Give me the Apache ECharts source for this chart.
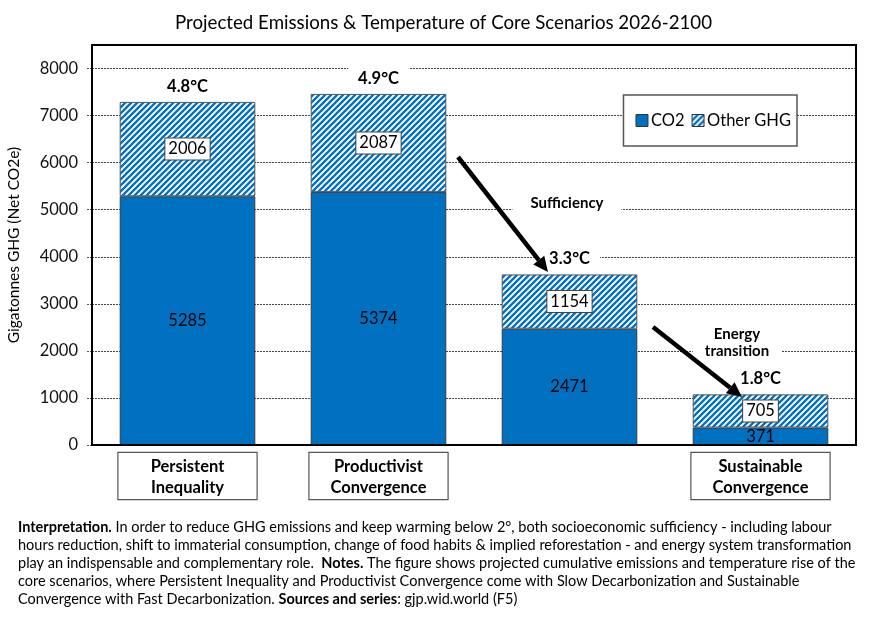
<!DOCTYPE html>
<html lang="en">
<head>
  <meta charset="UTF-8">
  <title>Projected Emissions & Temperature of Core Scenarios</title>
  <script src="https://cdn.jsdelivr.net/npm/echarts@6/dist/echarts.min.js"></script>
  <style>
    html, body { margin: 0; padding: 0; background: #fff; }
    #chart { width: 887px; height: 617px; }
  </style>
</head>
<body>
  <div id="chart"></div>
  <script>
    // data
    const categories = ['Persistent\nInequality', 'Productivist\nConvergence', '', 'Sustainable\nConvergence'];
    const co2 = [5285, 5374, 2471, 371];
    const otherGhg = [2006, 2087, 1154, 705];
    const temps = ['4.8°C', '4.9°C', '3.3°C', '1.8°C'];
    const yTicks = { min: 0, max: 8500, interval: 1000 };

    const FONT = 'Lato, "Open Sans", sans-serif';
    const BLUE = '#0070C0';

    // diagonal hatch tile for "Other GHG"
    function hatchPattern() {
      const s = 6;
      const c = document.createElement('canvas');
      c.width = s; c.height = s;
      const ctx = c.getContext('2d');
      ctx.fillStyle = '#fff';
      ctx.fillRect(0, 0, s, s);
      ctx.strokeStyle = BLUE;
      ctx.lineWidth = 2.3;
      ctx.beginPath();
      ctx.moveTo(-1, 1); ctx.lineTo(1, -1);
      ctx.moveTo(0, s); ctx.lineTo(s, 0);
      ctx.moveTo(s - 1, s + 1); ctx.lineTo(s + 1, s - 1);
      ctx.stroke();
      return { image: c, repeat: 'repeat' };
    }

    // arrow annotation: shaft + head
    function arrow(x1, y1, x2, y2) {
      const dx = x2 - x1, dy = y2 - y1;
      const len = Math.sqrt(dx * dx + dy * dy);
      const ux = dx / len, uy = dy / len;
      const hl = 15, hw = 7;
      const bx = x2 - ux * hl, by = y2 - uy * hl;
      return [
        { type: 'line', shape: { x1: x1, y1: y1, x2: bx, y2: by }, style: { stroke: '#000', lineWidth: 4.5 }, z: 50 },
        { type: 'polygon', shape: { points: [[x2, y2], [bx - uy * hw, by + ux * hw], [bx + uy * hw, by - ux * hw]] }, style: { fill: '#000' }, z: 50 }
      ];
    }

    const notes = [
      '{b|Interpretation.} In order to reduce GHG emissions and keep warming below 2°, both socioeconomic sufficiency - including labour',
      'hours reduction, shift to immaterial consumption, change of food habits & implied reforestation - and energy system transformation',
      'play an indispensable and complementary role.  {b|Notes.} The figure shows projected cumulative emissions and temperature rise of the',
      'core scenarios, where Persistent Inequality and Productivist Convergence come with Slow Decarbonization and Sustainable',
      'Convergence with Fast Decarbonization. {b|Sources and series}: gjp.wid.world (F5)'
    ].join('\n');

    const myChart = echarts.init(document.getElementById('chart'));
    const option = {
      backgroundColor: '#fff',
      textStyle: { fontFamily: FONT },
      animation: false,
      title: {
        text: 'Projected Emissions & Temperature of Core Scenarios 2026-2100',
        left: 'center', top: 8,
        textStyle: { fontFamily: FONT, fontSize: 18.7, fontWeight: 'normal', color: '#000' }
      },
      legend: {
        data: ['CO2', 'Other GHG'],
        right: 90, top: 95,
        orient: 'horizontal',
        backgroundColor: '#fff',
        borderColor: '#555', borderWidth: 1.5,
        padding: [17, 6, 17, 12],
        itemWidth: 12, itemHeight: 12, itemGap: 7,
        icon: 'rect',
        itemStyle: { borderColor: '#333', borderWidth: 1 },
        textStyle: { fontFamily: FONT, fontSize: 16.5, color: '#000', padding: [0, 0, 0, -2] }
      },
      grid: {
        left: 92, right: 31, top: 45, bottom: 172,
        outerBoundsMode: 'none',
        show: true, borderColor: '#000', borderWidth: 2, z: 3
      },
      xAxis: {
        type: 'category',
        data: categories.map(function (c) {
          return c ? c : { value: c, textStyle: { borderWidth: 0, borderColor: 'transparent' } };
        }),
        axisTick: { show: false },
        axisLine: { lineStyle: { color: '#000', width: 2 } },
        axisLabel: {
          interval: 0,
          margin: 8,
          fontFamily: FONT, fontSize: 16.5, fontWeight: 'bold', color: '#000',
          lineHeight: 21,
          width: 128,
          align: 'center',
          padding: [3, 5, 1, 5],
          borderColor: '#555', borderWidth: 1.2,
          backgroundColor: '#fff'
        }
      },
      yAxis: {
        type: 'value',
        min: yTicks.min, max: yTicks.max, interval: yTicks.interval,
        name: 'Gigatonnes GHG (Net CO2e)',
        nameLocation: 'middle', nameGap: 70, nameRotate: 90,
        nameTextStyle: { fontFamily: FONT, fontSize: 15.5, color: '#000' },
        axisLine: { show: true, lineStyle: { color: '#000', width: 2 } },
        axisTick: { show: true, length: 6, lineStyle: { color: '#555', type: [2, 1] } },
        axisLabel: {
          fontFamily: FONT, fontSize: 16.5, color: '#111', margin: 14, showMaxLabel: false,
          formatter: function (v) { return String(v); }
        },
        splitLine: { lineStyle: { color: '#444', width: 1, type: [2, 1] } }
      },
      series: [
        {
          name: 'CO2', type: 'bar', stack: 'ghg',
          barWidth: '71%',
          data: co2,
          itemStyle: { color: BLUE, borderColor: '#3a3a3a', borderWidth: 1 },
          label: { show: true, position: 'inside', color: '#000', fontFamily: FONT, fontSize: 16.5 }
        },
        {
          name: 'Other GHG', type: 'bar', stack: 'ghg',
          data: otherGhg,
          itemStyle: { color: hatchPattern(), borderColor: '#555', borderWidth: 1 },
          label: {
            show: true, position: 'inside', color: '#000', fontFamily: FONT, fontSize: 16.5,
            backgroundColor: '#fff', borderColor: '#444', borderWidth: 1, padding: [3, 3, 1, 3]
          }
        },
        {
          name: 'Temperature', type: 'bar', stack: 'ghg',
          data: temps.map(function () { return 0; }),
          itemStyle: { color: 'transparent' },
          z: 4,
          label: {
            show: true, position: 'top', distance: 5,
            formatter: function (p) { return temps[p.dataIndex]; },
            color: '#000', fontFamily: FONT, fontSize: 16.5, fontWeight: 'bold',
            backgroundColor: '#fff', padding: [2, 10, 2, 10]
          }
        }
      ],
      graphic: [].concat(
        arrow(458, 157, 548, 272),
        arrow(653, 327, 742, 397),
        [
          {
            type: 'text', x: 567, y: 203, z: 40,
            style: {
              text: 'Sufficiency', align: 'center', verticalAlign: 'middle',
              font: 'bold 15px ' + FONT, fill: '#000',
              backgroundColor: '#fff', padding: [2, 18, 2, 18]
            }
          },
          {
            type: 'text', x: 737, y: 343, z: 40,
            style: {
              text: 'Energy\ntransition', align: 'center', verticalAlign: 'middle',
              font: 'bold 15px ' + FONT, fill: '#000', lineHeight: 17,
              backgroundColor: '#fff', padding: [2, 12, 2, 12]
            }
          },
          {
            type: 'text', left: 18, top: 518, z: 40,
            style: {
              text: notes,
              font: '14.5px ' + FONT, fill: '#000', lineHeight: 18,
              rich: {
                b: { fontWeight: 'bold', fontFamily: FONT, fontSize: 14.5, lineHeight: 18, fill: '#000' }
              }
            }
          }
        ]
      )
    };
    myChart.setOption(option);
  </script>
</body>
</html>
